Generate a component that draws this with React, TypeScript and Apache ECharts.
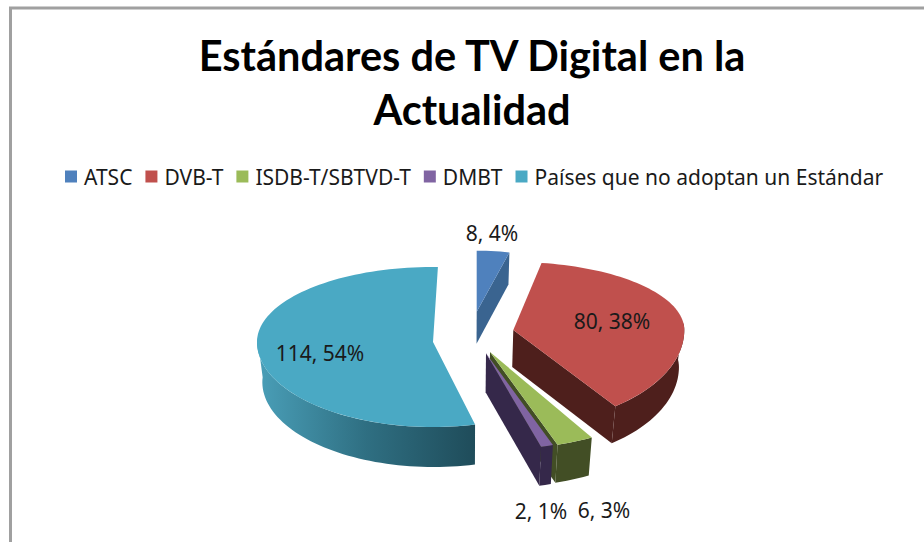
import React, { useEffect, useRef } from "react";
import * as echarts from "echarts";

const titleText = "Estándares de TV Digital en la\nActualidad";
const names = ["ATSC", "DVB-T", "ISDB-T/SBTVD-T", "DMBT", "Países que no adoptan un Estándar"];
const values = [8, 80, 6, 2, 114];
const topColors = ["#4f81bd", "#c0504d", "#9bbb59", "#8064a2", "#4aa9c4"];
const wallColors = ["#3a6490", "#4e1f1c", "#424e25", "#35284a", "#2f7285"];

// Each slice is exploded and foreshortened on its own: apex, radii (back / front), wall depth.
const apexes = [[476.7, 311.7], [513.3, 330], [490, 352], [486, 353.3], [433, 342]];
const radiiX = [138, 171, 209, 207, 176];
const radiiBack = [61, 68, 75, 75, 75];
const radiiFront = [80, 95, 98, 97, 85];
const wallDepths = [32, 37, 38, 39, 40];
const startShift = [0, -4.2, 0, 0, 1.6];
const endShift = [0, -7.5, 0, 0, 1.6];
const drawEndCut = [true, true, true, true, false];
const labelCenters = [[492, 233], [612, 321], [604, 510], [541, 511], [320, 353]];

const vanishX = 470;
const wallShrink = 0.975;
const total = values.reduce((a, b) => a + b, 0);

function sliceAngles(i: number) {
  const before = values.slice(0, i).reduce((a, b) => a + b, 0);
  return [(before / total) * 360, ((before + values[i]) / total) * 360];
}

function renderSlice(i: number) {
  return () => {
    const [a0, a1] = sliceAngles(i);
    const [ax, ay] = apexes[i];
    const depth = wallDepths[i];
    const project = (deg: number) => {
      const f = (deg - a0) / (a1 - a0);
      const d = deg + startShift[i] + (endShift[i] - startShift[i]) * f;
      const r = (d * Math.PI) / 180;
      const c = Math.cos(r);
      return [ax + radiiX[i] * Math.sin(r), ay - c * (c > 0 ? radiiBack[i] : radiiFront[i])];
    };
    const lower = (p: number[]) => [vanishX + (p[0] - vanishX) * wallShrink, p[1] + depth];
    const arc = (from: number, to: number) => {
      const pts: number[][] = [];
      const n = Math.max(2, Math.ceil(Math.abs(to - from) / 2));
      for (let k = 0; k <= n; k++) pts.push(project(from + ((to - from) * k) / n));
      return pts;
    };
    const apex = [ax, ay];
    const children: any[] = [];
    if (drawEndCut[i]) {
      const e = project(a1);
      children.push({
        type: "polygon",
        shape: { points: [apex, e, lower(e), lower(apex)] },
        style: { fill: wallColors[i] },
      });
    }
    const f0 = Math.max(a0, 90);
    const f1 = Math.min(a1, 272);
    if (f1 > f0) {
      const top = arc(f0, f1);
      const bottom = top.map(lower).reverse();
      const isTeal = i === 4;
      children.push({
        type: "polygon",
        shape: { points: [...top, ...bottom] },
        style: {
          fill: isTeal
            ? new echarts.graphic.LinearGradient(1, 0, 0, 0, [
                { offset: 0, color: "#1f4c5a" },
                { offset: 0.5, color: "#2f6f82" },
                { offset: 1, color: "#4a9fb8" },
              ])
            : wallColors[i],
        },
      });
    }
    children.push({
      type: "polygon",
      shape: { points: [apex, ...arc(a0, a1)] },
      style: { fill: topColors[i] },
    });
    const pct = Math.round((values[i] / total) * 100);
    children.push({
      type: "text",
      x: labelCenters[i][0],
      y: labelCenters[i][1],
      style: {
        text: `${values[i]}, ${pct}%`,
        fill: "#1a1a1a",
        font: '21px "Noto Sans"',
        align: "center",
        verticalAlign: "middle",
      },
    });
    return { type: "group", children };
  };
}

export default function App() {
  const ref = useRef<HTMLDivElement>(null);
  useEffect(() => {
    const chart = echarts.init(ref.current!, undefined, { renderer: "svg" });
    chart.setOption({
      animation: false,
      backgroundColor: "#ffffff",
      title: {
        text: titleText,
        left: 472,
        top: 28,
        textAlign: "center",
        padding: 0,
        textStyle: {
          fontFamily: "Lato",
          fontSize: 41.5,
          fontWeight: "bold",
          lineHeight: 54,
          color: "#000000",
        },
      },
      legend: {
        data: names,
        left: 65,
        top: 166,
        padding: 0,
        icon: "rect",
        itemWidth: 12,
        itemHeight: 12,
        itemGap: 13,
        textStyle: { fontFamily: "Noto Sans", fontSize: 21, color: "#1a1a1a", padding: [0, 0, 0, 2] },
      },
      graphic: [
        {
          type: "polyline",
          shape: { points: [[10.5, 542], [10.5, 8], [924, 8]] },
          style: { stroke: "#a0a0a0", fill: "none", lineWidth: 3 },
          silent: true,
        },
      ],
      series: names.map((name, i) => ({
        type: "custom",
        name,
        coordinateSystem: "none",
        itemStyle: { color: topColors[i] },
        data: [[values[i]]],
        renderItem: renderSlice(i),
      })),
    });
    return () => chart.dispose();
  }, []);
  return <div ref={ref} style={{ position: "absolute", left: 0, top: 0, width: 924, height: 542 }} />;
}
